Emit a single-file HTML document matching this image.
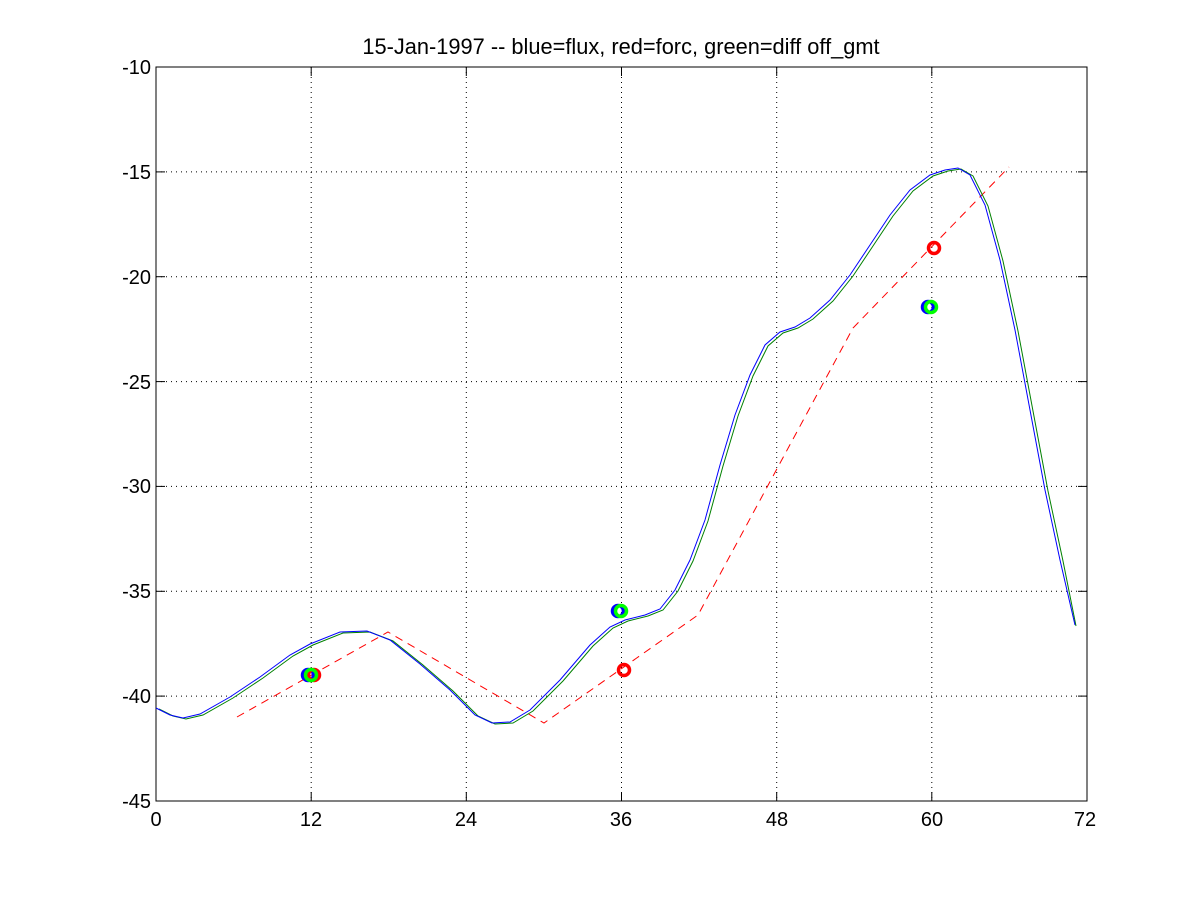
<!DOCTYPE html>
<html><head><style>body{margin:0;background:#fff}svg{display:block}text{font-family:"Liberation Sans",sans-serif;font-size:20px}</style></head><body>
<svg width="1200" height="900" viewBox="0 0 1200 900">
<rect width="1200" height="900" fill="#fff"/>
<g stroke="#000" stroke-dasharray="1,4" stroke-width="1">
<line x1="311.2" y1="67" x2="311.2" y2="801"/><line x1="466.3" y1="67" x2="466.3" y2="801"/><line x1="621.5" y1="67" x2="621.5" y2="801"/><line x1="776.7" y1="67" x2="776.7" y2="801"/><line x1="931.8" y1="67" x2="931.8" y2="801"/>
<line x1="156" y1="171.9" x2="1087" y2="171.9"/><line x1="156" y1="276.7" x2="1087" y2="276.7"/><line x1="156" y1="381.6" x2="1087" y2="381.6"/><line x1="156" y1="486.4" x2="1087" y2="486.4"/><line x1="156" y1="591.3" x2="1087" y2="591.3"/><line x1="156" y1="696.1" x2="1087" y2="696.1"/>
</g>
<rect x="156" y="67" width="931" height="734" fill="none" stroke="#000"/>
<g stroke="#000"><line x1="311.2" y1="801" x2="311.2" y2="792"/><line x1="466.3" y1="801" x2="466.3" y2="792"/><line x1="621.5" y1="801" x2="621.5" y2="792"/><line x1="776.7" y1="801" x2="776.7" y2="792"/><line x1="931.8" y1="801" x2="931.8" y2="792"/>
<line x1="311.2" y1="67" x2="311.2" y2="76"/><line x1="466.3" y1="67" x2="466.3" y2="76"/><line x1="621.5" y1="67" x2="621.5" y2="76"/><line x1="776.7" y1="67" x2="776.7" y2="76"/><line x1="931.8" y1="67" x2="931.8" y2="76"/>
<line x1="156" y1="171.9" x2="165" y2="171.9"/><line x1="156" y1="276.7" x2="165" y2="276.7"/><line x1="156" y1="381.6" x2="165" y2="381.6"/><line x1="156" y1="486.4" x2="165" y2="486.4"/><line x1="156" y1="591.3" x2="165" y2="591.3"/><line x1="156" y1="696.1" x2="165" y2="696.1"/>
<line x1="1087" y1="171.9" x2="1078" y2="171.9"/><line x1="1087" y1="276.7" x2="1078" y2="276.7"/><line x1="1087" y1="381.6" x2="1078" y2="381.6"/><line x1="1087" y1="486.4" x2="1078" y2="486.4"/><line x1="1087" y1="591.3" x2="1078" y2="591.3"/><line x1="1087" y1="696.1" x2="1078" y2="696.1"/></g>
<g text-anchor="middle"><text x="156" y="826">0</text><text x="311" y="826">12</text><text x="466" y="826">24</text><text x="621" y="826">36</text><text x="777" y="826">48</text><text x="932" y="826">60</text><text x="1085" y="826">72</text>
<text x="621" y="54" style="font-size:21.8px">15-Jan-1997 -- blue=flux, red=forc, green=diff off_gmt</text></g>
<g text-anchor="end"><text x="151" y="74">-10</text><text x="151" y="179">-15</text><text x="151" y="284">-20</text><text x="151" y="389">-25</text><text x="151" y="493">-30</text><text x="151" y="598">-35</text><text x="151" y="703">-40</text><text x="151" y="808">-45</text></g>
<polyline fill="none" stroke="#f00" stroke-dasharray="8,6" points="237,717 388,632 544,723 698,615 853,328 1009,167"/>
<g fill="none">
<path transform="translate(3,1)" stroke="#008000" d="M156,708 L170,715 183,718 200,714 230,697 260,677 290,655 310,644 340,632 367,631 390,640 420,664 450,690 475,715 492,723 510,722 530,710 560,680 590,645 610,627 625,620 645,615 660,609 675,590 690,560 705,520 720,465 735,415 750,375 765,345 780,332 795,327 810,318 830,300 850,275 870,245 890,215 910,190 930,175 945,170 958,168 970,175 985,205 1000,260 1015,330 1030,410 1045,490 1060,560 1073,625"/>
<path stroke="#00f" d="M156,708 L170,715 183,718 200,714 230,697 260,677 290,655 310,644 340,632 367,631 390,640 420,664 450,690 475,715 492,723 510,722 530,710 560,680 590,645 610,627 625,620 645,615 660,609 675,590 690,560 705,520 720,465 735,415 750,375 765,345 780,332 795,327 810,318 830,300 850,275 870,245 890,215 910,190 930,175 945,170 958,168 970,175 985,205 1000,260 1015,330 1030,410 1045,490 1060,560 1075,625"/>
</g>
<g fill="none" stroke-width="3.5">
<circle cx="308" cy="675" r="5.5" stroke="#00f"/><circle cx="618" cy="611" r="5.5" stroke="#00f"/><circle cx="928" cy="307" r="5.5" stroke="#00f"/>
<circle cx="314" cy="675" r="5.5" stroke="#f00"/><circle cx="624" cy="670" r="5.5" stroke="#f00"/><circle cx="934" cy="248" r="5.5" stroke="#f00"/>
<circle cx="311" cy="675" r="5.5" stroke="#0f0"/><circle cx="621" cy="611" r="5.5" stroke="#0f0"/><circle cx="931" cy="307" r="5.5" stroke="#0f0"/>
</g>
</svg></body></html>
